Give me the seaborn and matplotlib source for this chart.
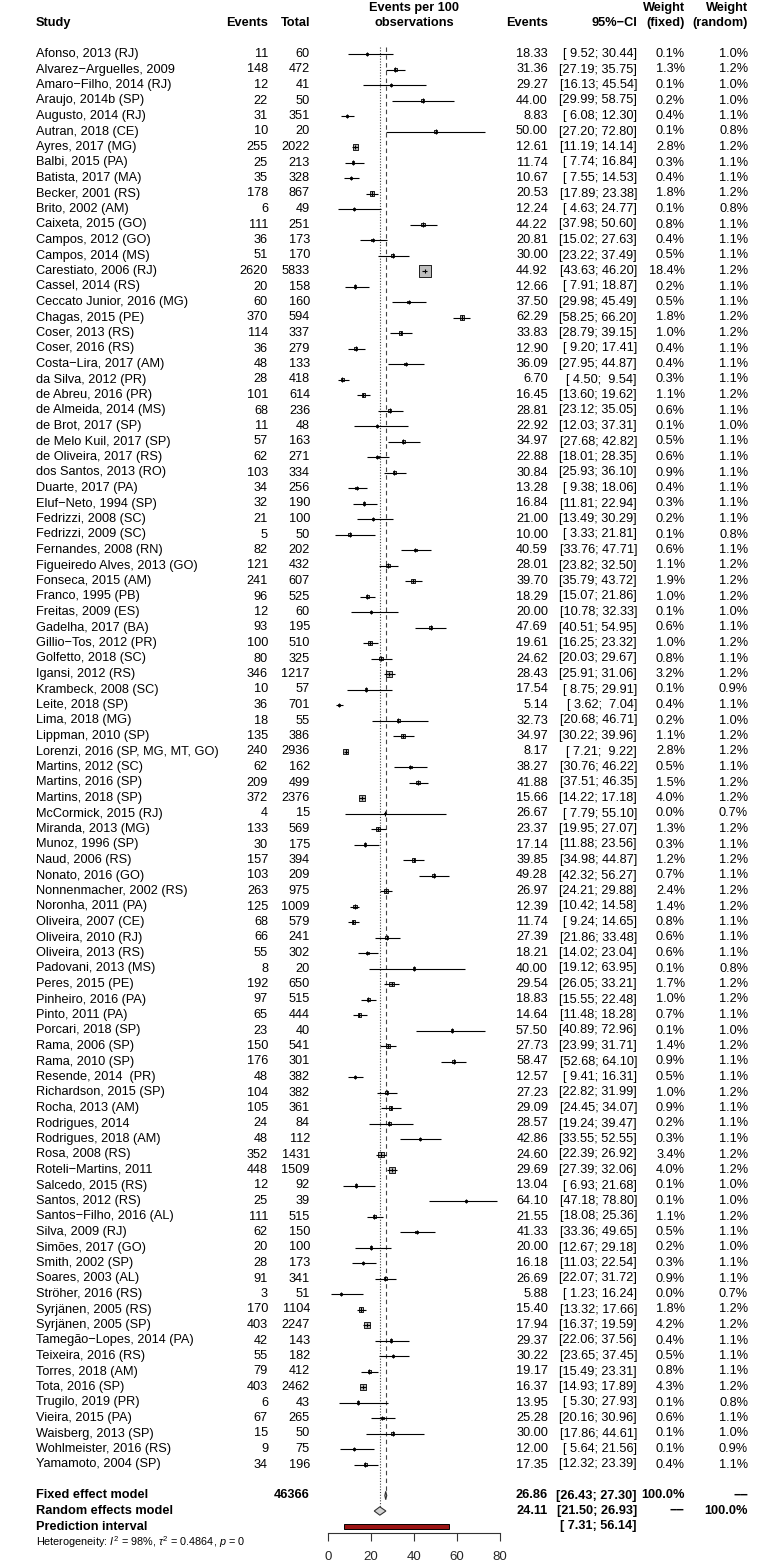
"""
Forest plot: HPV prevalence per 100 observations across Brazilian studies.
"""

import numpy as np
import pandas as pd
import matplotlib
matplotlib.use("Agg")
import matplotlib.pyplot as plt
import seaborn as sns
from matplotlib.patches import Polygon
from matplotlib.transforms import blended_transform_factory

sns.set_style("white")
plt.rcParams['font.family'] = ['Liberation Sans', 'DejaVu Sans']
plt.rcParams['mathtext.fontset'] = 'custom'
plt.rcParams['mathtext.rm'] = 'Liberation Sans'
plt.rcParams['mathtext.it'] = 'Liberation Sans:italic'

# ---- data ----
studies = [
    "Afonso, 2013 (RJ)", "Alvarez−Arguelles, 2009", "Amaro−Filho, 2014 (RJ)", "Araujo, 2014b (SP)",
    "Augusto, 2014 (RJ)", "Autran, 2018 (CE)", "Ayres, 2017 (MG)", "Balbi, 2015 (PA)",
    "Batista, 2017 (MA)", "Becker, 2001 (RS)", "Brito, 2002 (AM)", "Caixeta, 2015 (GO)",
    "Campos, 2012 (GO)", "Campos, 2014 (MS)", "Carestiato, 2006 (RJ)", "Cassel, 2014 (RS)",
    "Ceccato Junior, 2016 (MG)", "Chagas, 2015 (PE)", "Coser, 2013 (RS)", "Coser, 2016 (RS)",
    "Costa−Lira, 2017 (AM)", "da Silva, 2012 (PR)", "de Abreu, 2016 (PR)", "de Almeida, 2014 (MS)",
    "de Brot, 2017 (SP)", "de Melo Kuil, 2017 (SP)", "de Oliveira, 2017 (RS)", "dos Santos, 2013 (RO)",
    "Duarte, 2017 (PA)", "Eluf−Neto, 1994 (SP)", "Fedrizzi, 2008 (SC)", "Fedrizzi, 2009 (SC)",
    "Fernandes, 2008 (RN)", "Figueiredo Alves, 2013 (GO)", "Fonseca, 2015 (AM)", "Franco, 1995 (PB)",
    "Freitas, 2009 (ES)", "Gadelha, 2017 (BA)", "Gillio−Tos, 2012 (PR)", "Golfetto, 2018 (SC)",
    "Igansi, 2012 (RS)", "Krambeck, 2008 (SC)", "Leite, 2018 (SP)", "Lima, 2018 (MG)",
    "Lippman, 2010 (SP)", "Lorenzi, 2016 (SP, MG, MT, GO)", "Martins, 2012 (SC)", "Martins, 2016 (SP)",
    "Martins, 2018 (SP)", "McCormick, 2015 (RJ)", "Miranda, 2013 (MG)", "Munoz, 1996 (SP)",
    "Naud, 2006 (RS)", "Nonato, 2016 (GO)", "Nonnenmacher, 2002 (RS)", "Noronha, 2011 (PA)",
    "Oliveira, 2007 (CE)", "Oliveira, 2010 (RJ)", "Oliveira, 2013 (RS)", "Padovani, 2013 (MS)",
    "Peres, 2015 (PE)", "Pinheiro, 2016 (PA)", "Pinto, 2011 (PA)", "Porcari, 2018 (SP)",
    "Rama, 2006 (SP)", "Rama, 2010 (SP)", "Resende, 2014  (PR)", "Richardson, 2015 (SP)",
    "Rocha, 2013 (AM)", "Rodrigues, 2014", "Rodrigues, 2018 (AM)", "Rosa, 2008 (RS)",
    "Roteli−Martins, 2011", "Salcedo, 2015 (RS)", "Santos, 2012 (RS)", "Santos−Filho, 2016 (AL)",
    "Silva, 2009 (RJ)", "Simões, 2017 (GO)", "Smith, 2002 (SP)", "Soares, 2003 (AL)",
    "Ströher, 2016 (RS)", "Syrjänen, 2005 (RS)", "Syrjänen, 2005 (SP)", "Tamegão−Lopes, 2014 (PA)",
    "Teixeira, 2016 (RS)", "Torres, 2018 (AM)", "Tota, 2016 (SP)", "Trugilo, 2019 (PR)",
    "Vieira, 2015 (PA)", "Waisberg, 2013 (SP)", "Wohlmeister, 2016 (RS)", "Yamamoto, 2004 (SP)",
]
events = [11, 148, 12, 22, 31, 10, 255, 25, 35, 178, 6, 111, 36, 51, 2620, 20, 60, 370, 114, 36,
          48, 28, 101, 68, 11, 57, 62, 103, 34, 32, 21, 5, 82, 121, 241, 96, 12, 93, 100, 80,
          346, 10, 36, 18, 135, 240, 62, 209, 372, 4, 133, 30, 157, 103, 263, 125, 68, 66, 55, 8,
          192, 97, 65, 23, 150, 176, 48, 104, 105, 24, 48, 352, 448, 12, 25, 111, 62, 20, 28, 91,
          3, 170, 403, 42, 55, 79, 403, 6, 67, 15, 9, 34]
totals = [60, 472, 41, 50, 351, 20, 2022, 213, 328, 867, 49, 251, 173, 170, 5833, 158, 160, 594, 337, 279,
          133, 418, 614, 236, 48, 163, 271, 334, 256, 190, 100, 50, 202, 432, 607, 525, 60, 195, 510, 325,
          1217, 57, 701, 55, 386, 2936, 162, 499, 2376, 15, 569, 175, 394, 209, 975, 1009, 579, 241, 302, 20,
          650, 515, 444, 40, 541, 301, 382, 382, 361, 84, 112, 1431, 1509, 92, 39, 515, 150, 100, 173, 341,
          51, 1104, 2247, 143, 182, 412, 2462, 43, 265, 50, 75, 196]
est = [18.33, 31.36, 29.27, 44.00, 8.83, 50.00, 12.61, 11.74, 10.67, 20.53, 12.24, 44.22, 20.81, 30.00,
       44.92, 12.66, 37.50, 62.29, 33.83, 12.90, 36.09, 6.70, 16.45, 28.81, 22.92, 34.97, 22.88, 30.84,
       13.28, 16.84, 21.00, 10.00, 40.59, 28.01, 39.70, 18.29, 20.00, 47.69, 19.61, 24.62, 28.43, 17.54,
       5.14, 32.73, 34.97, 8.17, 38.27, 41.88, 15.66, 26.67, 23.37, 17.14, 39.85, 49.28, 26.97, 12.39,
       11.74, 27.39, 18.21, 40.00, 29.54, 18.83, 14.64, 57.50, 27.73, 58.47, 12.57, 27.23, 29.09, 28.57,
       42.86, 24.60, 29.69, 13.04, 64.10, 21.55, 41.33, 20.00, 16.18, 26.69, 5.88, 15.40, 17.94, 29.37,
       30.22, 19.17, 16.37, 13.95, 25.28, 30.00, 12.00, 17.35]
ci_lo = [9.52, 27.19, 16.13, 29.99, 6.08, 27.20, 11.19, 7.74, 7.55, 17.89, 4.63, 37.98, 15.02, 23.22,
         43.63, 7.91, 29.98, 58.25, 28.79, 9.20, 27.95, 4.50, 13.60, 23.12, 12.03, 27.68, 18.01, 25.93,
         9.38, 11.81, 13.49, 3.33, 33.76, 23.82, 35.79, 15.07, 10.78, 40.51, 16.25, 20.03, 25.91, 8.75,
         3.62, 20.68, 30.22, 7.21, 30.76, 37.51, 14.22, 7.79, 19.95, 11.88, 34.98, 42.32, 24.21, 10.42,
         9.24, 21.86, 14.02, 19.12, 26.05, 15.55, 11.48, 40.89, 23.99, 52.68, 9.41, 22.82, 24.45, 19.24,
         33.55, 22.39, 27.39, 6.93, 47.18, 18.08, 33.36, 12.67, 11.03, 22.07, 1.23, 13.32, 16.37, 22.06,
         23.65, 15.49, 14.93, 5.30, 20.16, 17.86, 5.64, 12.32]
ci_hi = [30.44, 35.75, 45.54, 58.75, 12.30, 72.80, 14.14, 16.84, 14.53, 23.38, 24.77, 50.60, 27.63, 37.49,
         46.20, 18.87, 45.49, 66.20, 39.15, 17.41, 44.87, 9.54, 19.62, 35.05, 37.31, 42.82, 28.35, 36.10,
         18.06, 22.94, 30.29, 21.81, 47.71, 32.50, 43.72, 21.86, 32.33, 54.95, 23.32, 29.67, 31.06, 29.91,
         7.04, 46.71, 39.96, 9.22, 46.22, 46.35, 17.18, 55.10, 27.07, 23.56, 44.87, 56.27, 29.88, 14.58,
         14.65, 33.48, 23.04, 63.95, 33.21, 22.48, 18.28, 72.96, 31.71, 64.10, 16.31, 31.99, 34.07, 39.47,
         52.55, 26.92, 32.06, 21.68, 78.80, 25.36, 49.65, 29.18, 22.54, 31.72, 16.24, 17.66, 19.59, 37.56,
         37.45, 23.31, 17.89, 27.93, 30.96, 44.61, 21.56, 23.39]
w_fixed = [0.1, 1.3, 0.1, 0.2, 0.4, 0.1, 2.8, 0.3, 0.4, 1.8, 0.1, 0.8, 0.4, 0.5, 18.4, 0.2, 0.5, 1.8, 1.0, 0.4,
           0.4, 0.3, 1.1, 0.6, 0.1, 0.5, 0.6, 0.9, 0.4, 0.3, 0.2, 0.1, 0.6, 1.1, 1.9, 1.0, 0.1, 0.6, 1.0, 0.8,
           3.2, 0.1, 0.4, 0.2, 1.1, 2.8, 0.5, 1.5, 4.0, 0.0, 1.3, 0.3, 1.2, 0.7, 2.4, 1.4, 0.8, 0.6, 0.6, 0.1,
           1.7, 1.0, 0.7, 0.1, 1.4, 0.9, 0.5, 1.0, 0.9, 0.2, 0.3, 3.4, 4.0, 0.1, 0.1, 1.1, 0.5, 0.2, 0.3, 0.9,
           0.0, 1.8, 4.2, 0.4, 0.5, 0.8, 4.3, 0.1, 0.6, 0.1, 0.1, 0.4]
w_random = [1.0, 1.2, 1.0, 1.0, 1.1, 0.8, 1.2, 1.1, 1.1, 1.2, 0.8, 1.1, 1.1, 1.1, 1.2, 1.1, 1.1, 1.2, 1.2, 1.1,
            1.1, 1.1, 1.2, 1.1, 1.0, 1.1, 1.1, 1.1, 1.1, 1.1, 1.1, 0.8, 1.1, 1.2, 1.2, 1.2, 1.0, 1.1, 1.2, 1.1,
            1.2, 0.9, 1.1, 1.0, 1.2, 1.2, 1.1, 1.2, 1.2, 0.7, 1.2, 1.1, 1.2, 1.1, 1.2, 1.2, 1.1, 1.1, 1.1, 0.8,
            1.2, 1.2, 1.1, 1.0, 1.2, 1.1, 1.1, 1.2, 1.1, 1.1, 1.1, 1.2, 1.2, 1.0, 1.0, 1.2, 1.1, 1.0, 1.1, 1.1,
            0.7, 1.2, 1.2, 1.1, 1.1, 1.1, 1.2, 0.8, 1.1, 1.0, 0.9, 1.1]

total_n = 46366
fixed_est, fixed_lo, fixed_hi = 26.86, 26.43, 27.30
random_est, random_lo, random_hi = 24.11, 21.50, 26.93
pred_lo, pred_hi = 7.31, 56.14
heterogeneity = r"Heterogeneity: $I^2$ = 98%, $\tau^2$ = 0.4864, $p$ = 0"
x_ticks = [0, 20, 40, 60, 80]

df = pd.DataFrame({"study": studies, "events": events, "total": totals, "est": est,
                   "lo": ci_lo, "hi": ci_hi, "w_fixed": w_fixed, "w_random": w_random})
df["row"] = np.arange(len(df))
n = len(df)
row_fixed, row_random, row_pred, row_het = n + 1, n + 2, n + 3, n + 4

# ---- layout (pixels) ----
W, H = 784, 1565
row_h = 15.5
y_first = 54
axis_px = 1533
x0_px, x1_px = 328, 500

fig = plt.figure(figsize=(W / 100, H / 100), dpi=100)
ax = fig.add_axes([x0_px / W, (H - axis_px) / H, (x1_px - x0_px) / W, axis_px / H])
ax.set_facecolor("none")
ax.set_xlim(0, 80)
ax.set_ylim((axis_px - y_first) / row_h, -y_first / row_h)

# study squares (area ~ fixed weight), CI lines
sns.scatterplot(data=df, x="est", y="row", size="w_fixed", sizes=(2, 75), size_norm=(0, 18.4),
                marker="s", color="#bebebe", edgecolor="black", linewidth=0.6,
                legend=False, ax=ax, zorder=3, clip_on=False)
ax.hlines(df["row"], df["lo"], df["hi"], color="black", lw=0.8, zorder=4)
ax.vlines(df["est"], df["row"] - 0.15, df["row"] + 0.15, color="black", lw=0.8, zorder=4)

# reference lines
ax.vlines(fixed_est, -0.45, row_fixed, color="#444444", lw=0.8, linestyles=(0, (4, 3)), zorder=2)
ax.vlines(random_est, -0.45, row_random - 0.27, color="#444444", lw=0.8, linestyles=(0, (1, 1.5)), zorder=2)

# summary diamonds
for r, e, lo, hi, fc in [(row_fixed, fixed_est, fixed_lo, fixed_hi, "#bebebe"),
                         (row_random, random_est, random_lo, random_hi, "#d3d3d3")]:
    ax.add_patch(Polygon([(lo, r), (e, r - 0.27), (hi, r), (e, r + 0.27)], closed=True,
                         facecolor=fc, edgecolor="#333333", lw=0.8, zorder=5))

# prediction interval
ax.barh(row_pred, pred_hi - pred_lo, left=pred_lo, height=0.27, color="#9b1414",
        edgecolor="black", lw=0.7, zorder=5)

# axis styling
for side in ["top", "right", "left"]:
    ax.spines[side].set_visible(False)
ax.spines["bottom"].set_color("#333333")
ax.spines["bottom"].set_linewidth(0.8)
ax.set_yticks([])
ax.set_xticks(x_ticks)
ax.tick_params(axis="x", length=6, width=0.8, color="#333333", pad=7, labelsize=9.5, bottom=True)
ax.set_xlabel("")
ax.set_ylabel("")

# ---- text columns ----
tr = blended_transform_factory(fig.transFigure, ax.transData)
fs = 9.2


def put(x_px, row, s, ha="right", bold=False, size=fs):
    ax.text(x_px / W, row, s, transform=tr, ha=ha, va="center", fontsize=size,
            fontweight="bold" if bold else "normal", color="black", clip_on=False)


col_study, col_ev, col_tot = 36, 268, 310
col_est, col_ci, col_wf, col_wr = 548, 637, 685, 748
col_mid = (x0_px + x1_px) / 2

# header
put(col_mid, -3, "Events per 100", ha="center", bold=True)
put(col_wf, -3, "Weight", bold=True)
put(col_wr, -3, "Weight", bold=True)
put(col_study, -2, "Study", ha="left", bold=True)
put(col_ev, -2, "Events", bold=True)
put(col_tot, -2, "Total", bold=True)
put(col_mid, -2, "observations", ha="center", bold=True)
put(col_est, -2, "Events", bold=True)
put(col_ci, -2, "95%−CI", bold=True)
put(col_wf, -2, "(fixed)", bold=True)
put(col_wr, -2, "(random)", bold=True)

for _, r in df.iterrows():
    i = r["row"]
    put(col_study, i, r["study"], ha="left")
    put(col_ev, i, f"{r['events']:d}")
    put(col_tot, i, f"{r['total']:d}")
    put(col_est, i, f"{r['est']:.2f}")
    put(col_ci, i, f"[{r['lo']:5.2f}; {r['hi']:5.2f}]")
    put(col_wf, i, f"{r['w_fixed']:.1f}%")
    put(col_wr, i, f"{r['w_random']:.1f}%")

# summary rows
put(col_study, row_fixed, "Fixed effect model", ha="left", bold=True)
put(col_tot, row_fixed, f"{total_n}", bold=True)
put(col_est, row_fixed, f"{fixed_est:.2f}", bold=True)
put(col_ci, row_fixed, f"[{fixed_lo:5.2f}; {fixed_hi:5.2f}]", bold=True)
put(col_wf, row_fixed, "100.0%", bold=True)
put(col_wr, row_fixed, "−−", bold=True)

put(col_study, row_random, "Random effects model", ha="left", bold=True)
put(col_est, row_random, f"{random_est:.2f}", bold=True)
put(col_ci, row_random, f"[{random_lo:5.2f}; {random_hi:5.2f}]", bold=True)
put(col_wf, row_random, "−−", bold=True)
put(col_wr, row_random, "100.0%", bold=True)

put(col_study, row_pred, "Prediction interval", ha="left", bold=True)
put(col_ci, row_pred, f"[{pred_lo:5.2f}; {pred_hi:5.2f}]", bold=True)

put(col_study, row_het, heterogeneity, ha="left", size=7.8)

fig.savefig("out.png", dpi=100)
plt.close(fig)
